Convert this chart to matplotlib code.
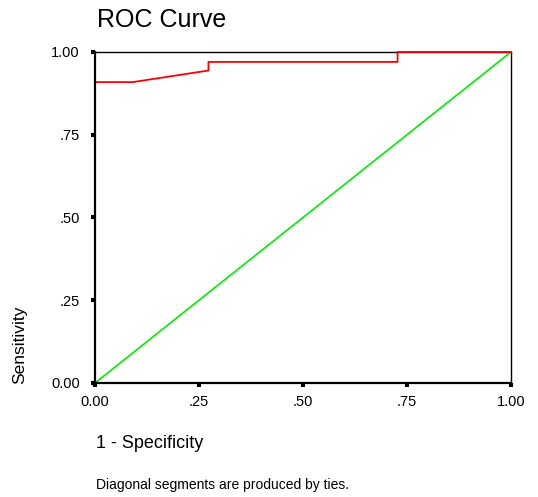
import matplotlib
matplotlib.use("Agg")
import matplotlib.pyplot as plt

plt.rcParams['font.family'] = ['Liberation Sans', 'DejaVu Sans']

fpr = [0.0, 0.0, 0.0909, 0.2727, 0.2727, 0.5455, 0.6364, 0.7273, 0.7273, 0.8182, 0.9091, 1.0]
tpr = [0.0, 0.909, 0.909, 0.944, 0.970, 0.970, 0.970, 0.970, 1.0, 1.0, 1.0, 1.0]
ref = [0.0, 1.0]
ticks = [0.0, 0.25, 0.5, 0.75, 1.0]
tick_labels = ['0.00', '.25', '.50', '.75', '1.00']

fig = plt.figure(figsize=(5.38, 4.97), dpi=100)
ax = fig.add_axes([0.1766, 0.2294, 0.7732, 0.666])

ax.plot(ref, ref, color='#00ee00', lw=1.2, clip_on=False, zorder=2)
ax.plot(fpr, tpr, color='#ff0000', lw=1.3, clip_on=False, zorder=2.1)

ax.set_xlim(0, 1)
ax.set_ylim(0, 1)
ax.set_xticks(ticks)
ax.set_xticklabels(tick_labels)
ax.set_yticks(ticks)
ax.set_yticklabels(tick_labels)
ax.tick_params(direction='out', length=3, width=3, labelsize=10.5, colors='black')
ax.tick_params(axis='x', pad=6)
ax.tick_params(axis='y', pad=8)
for s in ['top', 'right']:
    ax.spines[s].set_linewidth(1.0)
    ax.spines[s].set_zorder(1.5)
for s in ['left', 'bottom']:
    ax.spines[s].set_linewidth(1.6)
    ax.spines[s].set_zorder(3)

fig.text(97/538, 1 - 20/497, 'ROC Curve', fontsize=18, ha='left', va='center')
fig.text(96/538, 1 - 443/497, '1 - Specificity', fontsize=13, ha='left', va='center')
fig.text(96/538, 1 - 485/497, 'Diagonal segments are produced by ties.', fontsize=10, ha='left', va='center')
fig.text(20/538, 1 - 384/497, 'Sensitivity', fontsize=12.5, rotation=90, ha='center', va='bottom')

fig.savefig('out.png', dpi=100)
